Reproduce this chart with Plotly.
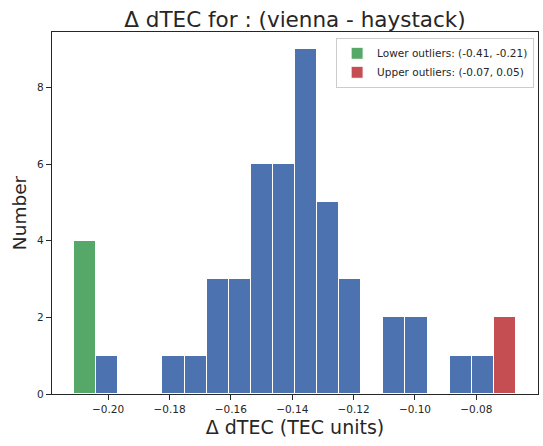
import plotly.graph_objects as go

# ---- data ----
bin_start = -0.2111          # left edge of first (outlier) bin
bin_width = 0.0072           # histogram bin width
lower_counts = [4]                                   # green bin(s)
main_counts = [1, 0, 0, 1, 1, 3, 3, 6, 6, 9, 5, 3, 0, 2, 2, 0, 1, 1]  # blue bins
upper_counts = [2]                                   # red bin(s)

lower_label = "Lower outliers: (-0.41, -0.21)"
upper_label = "Upper outliers: (-0.07, 0.05)"
title_text = "Δ dTEC for : (vienna - haystack)"
x_label = "Δ dTEC (TEC units)"
y_label = "Number"
x_ticks = [-0.20, -0.18, -0.16, -0.14, -0.12, -0.10, -0.08]
y_ticks = [0, 2, 4, 6, 8]

BLUE, GREEN, RED = "#4C72B0", "#55A868", "#C44E52"
INK = "#262626"
FONT = "DejaVu Sans"


def centers(offset, n):
    return [bin_start + (offset + i + 0.5) * bin_width for i in range(n)]


x_low = centers(0, len(lower_counts))
x_main = centers(len(lower_counts), len(main_counts))
x_up = centers(len(lower_counts) + len(main_counts), len(upper_counts))

total_bins = len(lower_counts) + len(main_counts) + len(upper_counts)
data_min = bin_start
data_max = bin_start + total_bins * bin_width
pad = 0.05 * (data_max - data_min)
ymax = max(lower_counts + main_counts + upper_counts) * 1.05

fig = go.Figure()
line = dict(color="white", width=1)
fig.add_trace(go.Bar(x=x_main, y=main_counts, width=bin_width, marker=dict(color=BLUE, line=line),
                     showlegend=False, name="data"))
fig.add_trace(go.Bar(x=x_low, y=lower_counts, width=bin_width, marker=dict(color=GREEN, line=line),
                     name=lower_label))
fig.add_trace(go.Bar(x=x_up, y=upper_counts, width=bin_width, marker=dict(color=RED, line=line),
                     name=upper_label))

axis_common = dict(
    showline=True, mirror=True, linecolor=INK, linewidth=1.25,
    ticks="outside", ticklen=5, tickwidth=1.25, tickcolor=INK,
    showgrid=False, zeroline=False,
    tickfont=dict(family=FONT, size=10.5, color=INK),
)

fig.update_layout(
    width=543, height=446,
    margin=dict(l=52, r=5, t=32, b=52),
    paper_bgcolor="white", plot_bgcolor="white",
    barmode="overlay", bargap=0,
    font=dict(family=FONT, color=INK),
    title=dict(text=title_text, x=0.5, xref="paper", xanchor="center",
               y=1 - 19 / 446, yref="container", yanchor="middle",
               font=dict(family=FONT, size=21.5, color=INK)),
    xaxis=dict(range=[data_min - pad, data_max + pad], tickvals=x_ticks, tickformat=".2f",
               title=dict(text=x_label, font=dict(family=FONT, size=19, color=INK), standoff=6),
               **axis_common),
    yaxis=dict(range=[0, ymax], tickvals=y_ticks,
               title=dict(text=y_label, font=dict(family=FONT, size=18.5, color=INK), standoff=5),
               **axis_common),
    legend=dict(x=0.992, y=0.984, xanchor="right", yanchor="top",
                bgcolor="rgba(255,255,255,0.8)", bordercolor="#cccccc", borderwidth=1,
                font=dict(family=FONT, size=10.5, color=INK), itemwidth=30,
                tracegroupgap=0),
)

fig.write_html("out.html")
